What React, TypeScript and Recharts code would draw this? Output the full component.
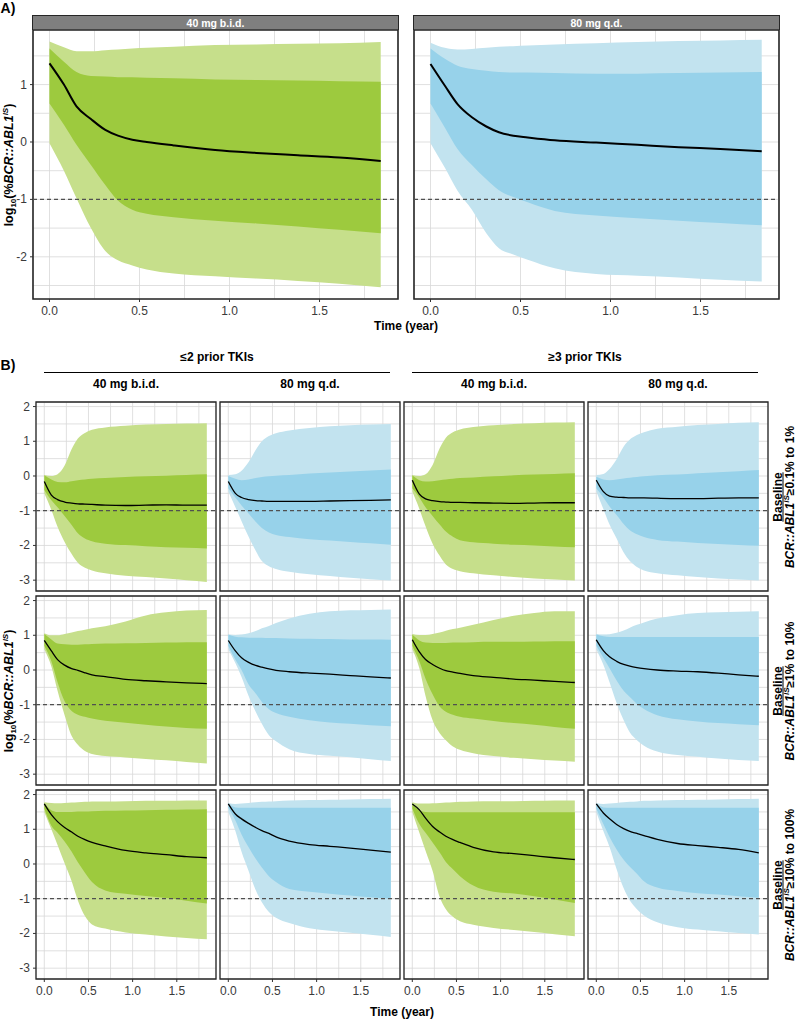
import React from "react";
import {
  ComposedChart,
  Area,
  Line,
  XAxis,
  YAxis,
  CartesianGrid,
  ReferenceLine,
  ReferenceArea,
} from "recharts";

const FONT = '"Liberation Sans", Arial, Helvetica, sans-serif';

const GREEN = { outer: "#c6df8b", inner: "#9dca3e" };
const BLUE = { outer: "#c2e3ef", inner: "#97d2ea" };

// time in years (roughly 4-weekly visits)
const TIME = [0, 0.08, 0.15, 0.23, 0.31, 0.38, 0.46, 0.54, 0.69, 0.92, 1.15, 1.38, 1.61, 1.84];

// ---- panel A: all patients ----
const A_BID_P95 = [1.75, 1.65, 1.58, 1.58, 1.6, 1.61, 1.63, 1.64, 1.66, 1.69, 1.7, 1.71, 1.72, 1.74];
const A_BID_P75 = [1.63, 1.4, 1.22, 1.15, 1.14, 1.13, 1.13, 1.12, 1.11, 1.09, 1.08, 1.07, 1.06, 1.05];
const A_BID_P50 = [1.37, 1.0, 0.62, 0.4, 0.21, 0.11, 0.04, 0.0, -0.06, -0.14, -0.19, -0.23, -0.27, -0.33];
const A_BID_P25 = [0.67, 0.3, -0.05, -0.4, -0.75, -1.02, -1.18, -1.25, -1.31, -1.37, -1.42, -1.47, -1.53, -1.59];
const A_BID_P5 = [-0.02, -0.5, -0.98, -1.5, -1.9, -2.06, -2.15, -2.22, -2.29, -2.34, -2.38, -2.42, -2.47, -2.53];

const A_QD_P95 = [1.73, 1.64, 1.61, 1.62, 1.64, 1.66, 1.67, 1.68, 1.7, 1.72, 1.74, 1.76, 1.77, 1.78];
const A_QD_P75 = [1.63, 1.45, 1.33, 1.27, 1.24, 1.22, 1.21, 1.21, 1.2, 1.19, 1.19, 1.2, 1.21, 1.22];
const A_QD_P50 = [1.36, 0.98, 0.66, 0.43, 0.27, 0.17, 0.11, 0.08, 0.03, -0.01, -0.05, -0.09, -0.12, -0.16];
const A_QD_P25 = [0.67, 0.25, -0.12, -0.4, -0.65, -0.84, -0.96, -1.05, -1.2, -1.28, -1.33, -1.37, -1.41, -1.45];
const A_QD_P5 = [-0.02, -0.45, -0.85, -1.18, -1.59, -1.85, -1.96, -2.05, -2.2, -2.3, -2.33, -2.36, -2.4, -2.43];

// ---- panel B: baseline >=0.1% to 1% ----
const LE2_BID_LOW_P95 = [0.03, 0.0, 0.05, 0.3, 0.78, 1.08, 1.24, 1.33, 1.4, 1.45, 1.48, 1.5, 1.51, 1.52];
const LE2_BID_LOW_P75 = [0.02, -0.1, -0.17, -0.18, -0.15, -0.12, -0.1, -0.08, -0.06, -0.03, -0.01, 0.01, 0.03, 0.05];
const LE2_BID_LOW_P50 = [-0.16, -0.55, -0.68, -0.75, -0.78, -0.8, -0.81, -0.82, -0.84, -0.85, -0.84, -0.83, -0.84, -0.84];
const LE2_BID_LOW_P25 = [-0.4, -0.7, -0.9, -1.15, -1.41, -1.65, -1.8, -1.88, -1.95, -1.99, -2.02, -2.05, -2.07, -2.09];
const LE2_BID_LOW_P5 = [-0.5, -0.98, -1.46, -1.9, -2.25, -2.5, -2.64, -2.72, -2.8, -2.87, -2.91, -2.95, -3.0, -3.05];

const LE2_QD_LOW_P95 = [0.03, 0.05, 0.15, 0.4, 0.75, 1.0, 1.15, 1.23, 1.31, 1.38, 1.43, 1.46, 1.48, 1.5];
const LE2_QD_LOW_P75 = [0.0, -0.08, -0.12, -0.1, -0.06, -0.03, -0.01, 0.01, 0.03, 0.07, 0.1, 0.13, 0.16, 0.19];
const LE2_QD_LOW_P50 = [-0.16, -0.5, -0.62, -0.68, -0.71, -0.72, -0.73, -0.73, -0.73, -0.73, -0.72, -0.71, -0.7, -0.69];
const LE2_QD_LOW_P25 = [-0.35, -0.62, -0.85, -1.08, -1.32, -1.5, -1.63, -1.7, -1.76, -1.82, -1.86, -1.9, -1.94, -1.98];
const LE2_QD_LOW_P5 = [-0.45, -0.9, -1.3, -1.75, -2.15, -2.45, -2.6, -2.68, -2.76, -2.83, -2.88, -2.93, -2.97, -3.01];

const GE3_BID_LOW_P95 = [0.03, 0.0, 0.05, 0.32, 0.8, 1.1, 1.26, 1.34, 1.41, 1.46, 1.5, 1.52, 1.54, 1.55];
const GE3_BID_LOW_P75 = [0.02, -0.12, -0.16, -0.15, -0.12, -0.1, -0.08, -0.06, -0.04, -0.01, 0.02, 0.04, 0.06, 0.08];
const GE3_BID_LOW_P50 = [-0.12, -0.52, -0.66, -0.71, -0.74, -0.75, -0.76, -0.76, -0.77, -0.78, -0.79, -0.78, -0.77, -0.77];
const GE3_BID_LOW_P25 = [-0.35, -0.62, -0.9, -1.15, -1.4, -1.6, -1.75, -1.85, -1.91, -1.95, -1.98, -2.0, -2.03, -2.05];
const GE3_BID_LOW_P5 = [-0.45, -0.95, -1.45, -1.95, -2.3, -2.55, -2.68, -2.74, -2.8, -2.86, -2.91, -2.95, -2.98, -3.01];

const GE3_QD_LOW_P95 = [0.03, 0.06, 0.2, 0.48, 0.85, 1.05, 1.18, 1.26, 1.36, 1.42, 1.47, 1.5, 1.53, 1.55];
const GE3_QD_LOW_P75 = [-0.02, -0.1, -0.12, -0.1, -0.07, -0.05, -0.03, -0.01, 0.02, 0.04, 0.08, 0.11, 0.14, 0.17];
const GE3_QD_LOW_P50 = [-0.12, -0.45, -0.58, -0.61, -0.62, -0.63, -0.63, -0.63, -0.64, -0.65, -0.65, -0.64, -0.63, -0.63];
const GE3_QD_LOW_P25 = [-0.35, -0.62, -0.88, -1.12, -1.38, -1.56, -1.68, -1.76, -1.84, -1.89, -1.93, -1.96, -1.99, -2.01];
const GE3_QD_LOW_P5 = [-0.45, -0.95, -1.4, -1.8, -2.2, -2.45, -2.62, -2.72, -2.8, -2.86, -2.91, -2.95, -2.98, -3.01];

// ---- panel B: baseline >=1% to 10% ----
const LE2_BID_MID_P95 = [1.06, 1.0, 1.0, 1.04, 1.08, 1.12, 1.16, 1.2, 1.26, 1.4, 1.57, 1.66, 1.71, 1.73];
const LE2_BID_MID_P75 = [1.04, 0.88, 0.76, 0.74, 0.73, 0.73, 0.74, 0.75, 0.76, 0.77, 0.78, 0.79, 0.8, 0.8];
const LE2_BID_MID_P50 = [0.85, 0.55, 0.3, 0.14, 0.04, -0.01, -0.08, -0.14, -0.19, -0.27, -0.31, -0.34, -0.37, -0.39];
const LE2_BID_MID_P25 = [0.7, 0.25, -0.35, -0.9, -1.18, -1.29, -1.35, -1.4, -1.46, -1.52, -1.58, -1.63, -1.67, -1.69];
const LE2_BID_MID_P5 = [0.6, 0.1, -0.6, -1.3, -1.9, -2.15, -2.33, -2.42, -2.48, -2.52, -2.56, -2.6, -2.65, -2.69];

const LE2_QD_MID_P95 = [1.02, 1.01, 1.02, 1.06, 1.12, 1.2, 1.27, 1.35, 1.48, 1.62, 1.69, 1.72, 1.73, 1.74];
const LE2_QD_MID_P75 = [1.02, 0.96, 0.94, 0.93, 0.93, 0.93, 0.92, 0.92, 0.91, 0.9, 0.89, 0.88, 0.88, 0.87];
const LE2_QD_MID_P50 = [0.85, 0.55, 0.35, 0.22, 0.13, 0.08, 0.03, -0.01, -0.05, -0.09, -0.12, -0.16, -0.2, -0.23];
const LE2_QD_MID_P25 = [0.7, 0.3, 0.0, -0.42, -0.68, -0.92, -1.13, -1.24, -1.35, -1.45, -1.51, -1.55, -1.59, -1.62];
const LE2_QD_MID_P5 = [0.6, 0.2, -0.2, -0.75, -1.2, -1.55, -1.88, -2.05, -2.28, -2.42, -2.47, -2.51, -2.57, -2.62];

const GE3_BID_MID_P95 = [1.04, 1.01, 1.01, 1.04, 1.08, 1.13, 1.18, 1.22, 1.3, 1.44, 1.56, 1.64, 1.69, 1.69];
const GE3_BID_MID_P75 = [1.02, 0.85, 0.79, 0.78, 0.78, 0.78, 0.79, 0.79, 0.8, 0.81, 0.81, 0.82, 0.83, 0.83];
const GE3_BID_MID_P50 = [0.87, 0.52, 0.3, 0.16, 0.05, -0.02, -0.06, -0.1, -0.16, -0.21, -0.26, -0.29, -0.33, -0.36];
const GE3_BID_MID_P25 = [0.7, 0.25, -0.25, -0.7, -1.05, -1.2, -1.29, -1.35, -1.4, -1.47, -1.53, -1.58, -1.64, -1.69];
const GE3_BID_MID_P5 = [0.6, 0.05, -0.75, -1.45, -1.82, -2.02, -2.2, -2.3, -2.4, -2.48, -2.53, -2.57, -2.61, -2.64];

const GE3_QD_MID_P95 = [1.04, 1.02, 1.03, 1.07, 1.14, 1.22, 1.3, 1.37, 1.48, 1.58, 1.64, 1.66, 1.68, 1.69];
const GE3_QD_MID_P75 = [1.02, 0.97, 0.95, 0.95, 0.95, 0.95, 0.95, 0.95, 0.95, 0.95, 0.95, 0.95, 0.95, 0.95];
const GE3_QD_MID_P50 = [0.87, 0.56, 0.38, 0.25, 0.16, 0.11, 0.07, 0.04, 0.0, -0.03, -0.05, -0.09, -0.14, -0.18];
const GE3_QD_MID_P25 = [0.7, 0.35, 0.05, -0.3, -0.6, -0.78, -0.98, -1.12, -1.3, -1.42, -1.48, -1.53, -1.56, -1.59];
const GE3_QD_MID_P5 = [0.6, 0.15, -0.35, -0.95, -1.45, -1.8, -2.02, -2.18, -2.35, -2.45, -2.5, -2.55, -2.59, -2.62];

// ---- panel B: baseline >=10% to 100% ----
const LE2_BID_HIGH_P95 = [1.78, 1.76, 1.75, 1.76, 1.77, 1.78, 1.79, 1.8, 1.8, 1.81, 1.82, 1.82, 1.83, 1.83];
const LE2_BID_HIGH_P75 = [1.76, 1.55, 1.5, 1.5, 1.5, 1.51, 1.51, 1.52, 1.53, 1.54, 1.55, 1.56, 1.57, 1.58];
const LE2_BID_HIGH_P50 = [1.73, 1.42, 1.22, 1.05, 0.92, 0.8, 0.7, 0.62, 0.52, 0.39, 0.32, 0.27, 0.21, 0.18];
const LE2_BID_HIGH_P25 = [1.6, 1.1, 0.9, 0.65, 0.35, 0.05, -0.25, -0.52, -0.76, -0.86, -0.92, -0.98, -1.06, -1.14];
const LE2_BID_HIGH_P5 = [1.5, 1.0, 0.55, 0.02, -0.5, -1.05, -1.5, -1.74, -1.86, -1.97, -2.03, -2.09, -2.13, -2.17];

const LE2_QD_HIGH_P95 = [1.76, 1.73, 1.74, 1.76, 1.78, 1.79, 1.8, 1.81, 1.83, 1.84, 1.85, 1.86, 1.87, 1.88];
const LE2_QD_HIGH_P75 = [1.74, 1.63, 1.62, 1.62, 1.62, 1.62, 1.62, 1.62, 1.62, 1.62, 1.62, 1.62, 1.62, 1.62];
const LE2_QD_HIGH_P50 = [1.73, 1.44, 1.3, 1.17, 1.05, 0.96, 0.88, 0.78, 0.66, 0.56, 0.51, 0.46, 0.4, 0.34];
const LE2_QD_HIGH_P25 = [1.62, 1.25, 0.85, 0.48, 0.15, -0.1, -0.35, -0.52, -0.72, -0.8, -0.86, -0.91, -0.96, -1.0];
const LE2_QD_HIGH_P5 = [1.5, 0.95, 0.35, -0.2, -0.75, -1.1, -1.38, -1.55, -1.7, -1.85, -1.92, -1.98, -2.04, -2.1];

const GE3_BID_HIGH_P95 = [1.78, 1.74, 1.74, 1.75, 1.76, 1.77, 1.78, 1.79, 1.8, 1.81, 1.81, 1.82, 1.83, 1.83];
const GE3_BID_HIGH_P75 = [1.76, 1.55, 1.5, 1.49, 1.49, 1.49, 1.49, 1.49, 1.49, 1.49, 1.49, 1.49, 1.49, 1.49];
const GE3_BID_HIGH_P50 = [1.73, 1.56, 1.32, 1.08, 0.92, 0.8, 0.7, 0.62, 0.48, 0.35, 0.3, 0.24, 0.18, 0.13];
const GE3_BID_HIGH_P25 = [1.6, 1.15, 0.9, 0.62, 0.33, 0.06, -0.15, -0.35, -0.62, -0.8, -0.85, -0.93, -1.02, -1.12];
const GE3_BID_HIGH_P5 = [1.5, 0.9, 0.38, -0.2, -0.95, -1.3, -1.52, -1.65, -1.75, -1.84, -1.9, -1.96, -2.02, -2.08];

const GE3_QD_HIGH_P95 = [1.76, 1.73, 1.74, 1.76, 1.78, 1.79, 1.8, 1.82, 1.83, 1.84, 1.85, 1.86, 1.87, 1.88];
const GE3_QD_HIGH_P75 = [1.74, 1.63, 1.62, 1.62, 1.62, 1.62, 1.62, 1.62, 1.62, 1.62, 1.62, 1.62, 1.62, 1.62];
const GE3_QD_HIGH_P50 = [1.73, 1.47, 1.3, 1.14, 1.02, 0.94, 0.88, 0.82, 0.71, 0.59, 0.53, 0.48, 0.42, 0.32];
const GE3_QD_HIGH_P25 = [1.6, 1.15, 0.78, 0.42, 0.12, -0.08, -0.28, -0.5, -0.68, -0.78, -0.84, -0.88, -0.93, -0.97];
const GE3_QD_HIGH_P5 = [1.5, 0.95, 0.49, -0.15, -0.7, -1.05, -1.3, -1.48, -1.68, -1.82, -1.89, -1.94, -1.99, -2.03];

const X_TICKS = [0, 0.25, 0.5, 0.75, 1, 1.25, 1.5, 1.75];
const A_Y_TICKS = [-2.5, -2, -1.5, -1, -0.5, 0, 0.5, 1, 1.5];
const B_Y_TICKS = [-3, -2.5, -2, -1.5, -1, -0.5, 0, 0.5, 1, 1.5, 2];
const A_X_DOMAIN = [-0.0917, 1.936];
const A_Y_DOMAIN = [-2.735, 1.951];
const B_X_DOMAIN = [-0.094, 1.944];
const B_Y_DOMAIN = [-3.312, 2.131];
const MMR_LINE = -1;

const ARMS = ["40 mg b.i.d.", "80 mg q.d."];
const TKI_GROUPS = ["≤2 prior TKIs", "≥3 prior TKIs"];
const BASELINES = ["≥0.1% to 1%", "≥1% to 10%", "≥10% to 100%"];

function build(p5, p25, p50, p75, p95) {
  return TIME.map((t, i) => ({
    t,
    outer: [p5[i], p95[i]],
    inner: [p25[i], p75[i]],
    med: p50[i],
  }));
}

const A_DATA = [
  build(A_BID_P5, A_BID_P25, A_BID_P50, A_BID_P75, A_BID_P95),
  build(A_QD_P5, A_QD_P25, A_QD_P50, A_QD_P75, A_QD_P95),
];

// rows: baseline groups, cols: <=2 bid, <=2 qd, >=3 bid, >=3 qd
const B_DATA = [
  [
    build(LE2_BID_LOW_P5, LE2_BID_LOW_P25, LE2_BID_LOW_P50, LE2_BID_LOW_P75, LE2_BID_LOW_P95),
    build(LE2_QD_LOW_P5, LE2_QD_LOW_P25, LE2_QD_LOW_P50, LE2_QD_LOW_P75, LE2_QD_LOW_P95),
    build(GE3_BID_LOW_P5, GE3_BID_LOW_P25, GE3_BID_LOW_P50, GE3_BID_LOW_P75, GE3_BID_LOW_P95),
    build(GE3_QD_LOW_P5, GE3_QD_LOW_P25, GE3_QD_LOW_P50, GE3_QD_LOW_P75, GE3_QD_LOW_P95),
  ],
  [
    build(LE2_BID_MID_P5, LE2_BID_MID_P25, LE2_BID_MID_P50, LE2_BID_MID_P75, LE2_BID_MID_P95),
    build(LE2_QD_MID_P5, LE2_QD_MID_P25, LE2_QD_MID_P50, LE2_QD_MID_P75, LE2_QD_MID_P95),
    build(GE3_BID_MID_P5, GE3_BID_MID_P25, GE3_BID_MID_P50, GE3_BID_MID_P75, GE3_BID_MID_P95),
    build(GE3_QD_MID_P5, GE3_QD_MID_P25, GE3_QD_MID_P50, GE3_QD_MID_P75, GE3_QD_MID_P95),
  ],
  [
    build(LE2_BID_HIGH_P5, LE2_BID_HIGH_P25, LE2_BID_HIGH_P50, LE2_BID_HIGH_P75, LE2_BID_HIGH_P95),
    build(LE2_QD_HIGH_P5, LE2_QD_HIGH_P25, LE2_QD_HIGH_P50, LE2_QD_HIGH_P75, LE2_QD_HIGH_P95),
    build(GE3_BID_HIGH_P5, GE3_BID_HIGH_P25, GE3_BID_HIGH_P50, GE3_BID_HIGH_P75, GE3_BID_HIGH_P95),
    build(GE3_QD_HIGH_P5, GE3_QD_HIGH_P25, GE3_QD_HIGH_P50, GE3_QD_HIGH_P75, GE3_QD_HIGH_P95),
  ],
];

// layout
const YW = 34;
const XH = 26;
const PAD = 8; // room above / right of each plot so labels and borders are not clipped
const A_TOP = 30;
const A_H = 269;
const A_W = 365;
const A_LEFTS = [33, 414];
const B_TOPS = [402, 596, 790];
const B_H = 189;
const B_W = 180;
const B_LEFTS = [36, 220, 404, 588];

function XTick({ x, y, payload, show }: any) {
  const v = payload.value;
  if (!show || !Number.isInteger(v * 2)) return <g />;
  return (
    <g>
      <line x1={x} x2={x} y1={y} y2={y + 3} stroke="#333" strokeWidth={1} />
      <text x={x} y={y + 16} textAnchor="middle" fontSize={12} fill="#3a3a3a" fontFamily={FONT}>
        {v.toFixed(1)}
      </text>
    </g>
  );
}

function YTick({ x, y, payload, show }: any) {
  const v = payload.value;
  if (!show || !Number.isInteger(v)) return <g />;
  return (
    <g>
      <line x1={x - 3} x2={x} y1={y} y2={y} stroke="#333" strokeWidth={1} />
      <text x={x - 6} y={y + 4} textAnchor="end" fontSize={12} fill="#3a3a3a" fontFamily={FONT}>
        {v}
      </text>
    </g>
  );
}

function Facet({ left, top, w, h, data, pal, xDomain, yDomain, yTicks, showX, showY, lineW, border }: any) {
  return (
    <div style={{ position: "absolute", left: left - YW, top: top - PAD }}>
      <ComposedChart
        width={w + YW + PAD}
        height={h + XH + PAD}
        data={data}
        margin={{ top: PAD, right: PAD, bottom: 0, left: 0 }}
      >
        <CartesianGrid stroke="#d8d8d8" strokeWidth={0.8} />
        <XAxis
          type="number"
          dataKey="t"
          domain={xDomain}
          allowDataOverflow
          ticks={X_TICKS}
          interval={0}
          height={XH}
          axisLine={false}
          tickLine={false}
          tickSize={0}
          tickMargin={0}
          tick={(p: any) => <XTick {...p} show={showX} />}
        />
        <YAxis
          type="number"
          domain={yDomain}
          allowDataOverflow
          ticks={yTicks}
          interval={0}
          width={YW}
          axisLine={false}
          tickLine={false}
          tickSize={0}
          tickMargin={0}
          tick={(p: any) => <YTick {...p} show={showY} />}
        />
        <Area dataKey="outer" type="monotone" stroke="none" fill={pal.outer} fillOpacity={1} isAnimationActive={false} />
        <Area dataKey="inner" type="monotone" stroke="none" fill={pal.inner} fillOpacity={1} isAnimationActive={false} />
        <ReferenceLine y={MMR_LINE} stroke="#505050" strokeDasharray="4 3" strokeWidth={1.2} />
        <Line dataKey="med" type="monotone" stroke="#000" strokeWidth={lineW} dot={false} isAnimationActive={false} />
        <ReferenceArea
          x1={xDomain[0]}
          x2={xDomain[1]}
          y1={yDomain[0]}
          y2={yDomain[1]}
          ifOverflow="visible"
          fill="none"
          stroke="#262626"
          strokeWidth={border}
        />
      </ComposedChart>
    </div>
  );
}

function Label({ x, y, size = 12, bold = true, children, rotate = false, style = {} }: any) {
  return (
    <div
      style={{
        position: "absolute",
        left: x,
        top: y,
        transform: `translate(-50%, -50%)${rotate ? " rotate(-90deg)" : ""}`,
        whiteSpace: "nowrap",
        fontSize: size,
        fontWeight: bold ? 700 : 400,
        lineHeight: "14px",
        textAlign: "center",
        ...style,
      }}
    >
      {children}
    </div>
  );
}

function Sup({ children }: any) {
  return <span style={{ fontSize: 8, position: "relative", top: -5, lineHeight: 0 }}>{children}</span>;
}

function YTitle({ x, y }: any) {
  return (
    <Label x={x} y={y} size={12.5} rotate>
      log<span style={{ fontSize: 8, position: "relative", top: 3, lineHeight: 0 }}>10</span>(%<i>BCR::ABL1</i>
      <Sup>
        <i>IS</i>
      </Sup>
      )
    </Label>
  );
}

export default function App() {
  return (
    <div
      style={{
        position: "absolute",
        left: 0,
        top: 0,
        width: 798,
        height: 1019,
        background: "#fff",
        fontFamily: FONT,
        color: "#000",
        overflow: "hidden",
      }}
    >
      {/* panel A */}
      <Label x={8} y={8} size={14}>A)</Label>
      {ARMS.map((arm, i) => (
        <div
          key={arm}
          style={{
            position: "absolute",
            left: A_LEFTS[i] - 0.75,
            top: A_TOP - 15,
            width: A_W + 1.5,
            height: 15,
            boxSizing: "border-box",
            background: "#7f7f7f",
            border: "1px solid #262626",
            borderBottom: "none",
            color: "#fff",
            fontWeight: 700,
            fontSize: 10.5,
            lineHeight: "14px",
            textAlign: "center",
          }}
        >
          {arm}
        </div>
      ))}
      {A_DATA.map((d, i) => (
        <Facet
          key={"a" + i}
          left={A_LEFTS[i]}
          top={A_TOP}
          w={A_W}
          h={A_H}
          data={d}
          pal={i === 0 ? GREEN : BLUE}
          xDomain={A_X_DOMAIN}
          yDomain={A_Y_DOMAIN}
          yTicks={A_Y_TICKS}
          showX
          showY={i === 0}
          lineW={2}
          border={1.6}
        />
      ))}
      <YTitle x={9} y={A_TOP + A_H / 2} />
      <Label x={406} y={326}>Time (year)</Label>

      {/* panel B */}
      <Label x={8} y={365} size={14}>B)</Label>
      {TKI_GROUPS.map((g, k) => {
        const l = B_LEFTS[k * 2] + 8;
        const r = B_LEFTS[k * 2 + 1] + B_W - 10;
        return (
          <React.Fragment key={g}>
            <Label x={(l + r) / 2} y={357}>{g}</Label>
            <div style={{ position: "absolute", left: l, top: 371.5, width: r - l, height: 1.5, background: "#000" }} />
          </React.Fragment>
        );
      })}
      {B_LEFTS.map((l, c) => (
        <Label key={"h" + c} x={l + B_W / 2} y={384}>
          {ARMS[c % 2]}
        </Label>
      ))}
      {B_DATA.map((row, r) =>
        row.map((d, c) => (
          <Facet
            key={"b" + r + c}
            left={B_LEFTS[c]}
            top={B_TOPS[r]}
            w={B_W}
            h={B_H}
            data={d}
            pal={c % 2 === 0 ? GREEN : BLUE}
            xDomain={B_X_DOMAIN}
            yDomain={B_Y_DOMAIN}
            yTicks={B_Y_TICKS}
            showX={r === 2}
            showY={c === 0}
            lineW={1.3}
            border={1.3}
          />
        ))
      )}
      {BASELINES.map((b, r) => (
        <Label key={b} x={784} y={B_TOPS[r] + B_H / 2} size={12} rotate style={{ lineHeight: "11.5px" }}>
          <div style={{ textDecoration: "underline" }}>Baseline</div>
          <div>
            <i>BCR::ABL1</i>
            <Sup>
              <i>IS</i>
            </Sup>
            {b}
          </div>
        </Label>
      ))}
      <YTitle x={9} y={B_TOPS[1] + B_H / 2} />
      <Label x={402} y={1012}>Time (year)</Label>
    </div>
  );
}
